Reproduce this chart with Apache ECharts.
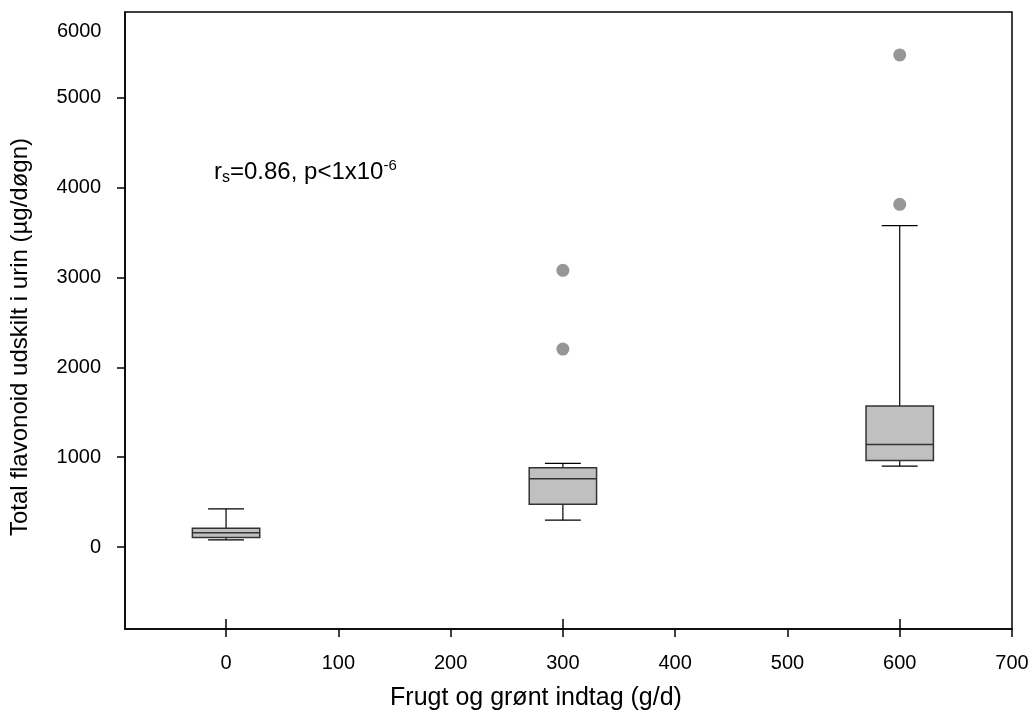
<!DOCTYPE html>
<html>
<head>
<meta charset="utf-8">
<script src="https://cdn.jsdelivr.net/npm/echarts@6/dist/echarts.min.js"></script>
<style>html,body{margin:0;padding:0;background:#fff}#c{width:1033px;height:711px}</style>
</head>
<body>
<div id="c"></div>
<script>
// ---- data ----
const intake = [0, 300, 600];
const lowWhisker = [81, 300, 901];
const q1 = [108, 478, 964];
const median = [159, 760, 1142];
const q3 = [211, 882, 1568];
const highWhisker = [426, 931, 3574];
const outlierX = [300, 300, 600, 600];
const outlierY = [3078, 2202, 5473, 3812];
const xTickLabels = [0, 100, 200, 300, 400, 500, 600, 700];
const xMajorTicks = [0, 300, 600];
const yTickLabels = [0, 1000, 2000, 3000, 4000, 5000];
const xTitle = 'Frugt og grønt indtag (g/d)';
const yTitle = 'Total flavonoid udskilt i urin (µg/døgn)';

const FONT = 'Liberation Sans, Arial, sans-serif';
const boxData = intake.map((x, i) => [x, lowWhisker[i], q1[i], median[i], q3[i], highWhisker[i]]);
const outliers = outlierX.map((x, i) => [x, outlierY[i]]);

const chart = echarts.init(document.getElementById('c'), null, {renderer: 'canvas'});
chart.setOption({
  animation: false,
  backgroundColor: '#fff',
  grid: {left: 125, right: 21, top: 12, bottom: 82, show: true, borderColor: '#000', borderWidth: 1.5},
  xAxis: [{
    type: 'value', min: -90, max: 700,
    splitLine: {show: false},
    axisLine: {onZero: false, lineStyle: {color: '#000', width: 1.5}},
    axisTick: {customValues: xTickLabels, length: 8, lineStyle: {color: '#000', width: 1.5}},
    axisLabel: {customValues: xTickLabels, margin: 24, fontSize: 20, color: '#000', fontFamily: FONT,
      formatter: v => String(v)}
  }, {
    type: 'value', min: -90, max: 700, position: 'bottom',
    splitLine: {show: false},
    axisLine: {show: false, onZero: false},
    axisTick: {customValues: xMajorTicks, inside: true, length: 10, lineStyle: {color: '#000', width: 1.5}},
    axisLabel: {show: false}
  }],
  yAxis: {
    type: 'value', min: -910, max: 5950,
    splitLine: {show: false},
    axisLine: {onZero: false, lineStyle: {color: '#000', width: 1.5}},
    axisTick: {customValues: yTickLabels, length: 8, lineStyle: {color: '#000', width: 1.5}},
    axisLabel: {customValues: yTickLabels, margin: 24, fontSize: 20, color: '#000', fontFamily: FONT,
      formatter: v => String(v)}
  },
  graphic: [
    {type: 'text', left: 57, top: 21, style: {text: '6000', fontSize: 20, fill: '#000', fontFamily: FONT}},
    {type: 'text', x: 536, y: 698, style: {text: xTitle, fontSize: 25, fill: '#000', fontFamily: FONT, align: 'center', verticalAlign: 'middle'}},
    {type: 'text', x: 20, y: 337, rotation: Math.PI / 2, style: {text: yTitle, fontSize: 24, fill: '#000', fontFamily: FONT, align: 'center', verticalAlign: 'middle'}},
    {type: 'text', x: 214, y: 172, style: {
      text: 'r{s|s}=0.86, p<1x10{p|-6}', fontSize: 24, fill: '#000', fontFamily: FONT, verticalAlign: 'middle', lineHeight: 28,
      rich: {
        s: {fontSize: 16, fontFamily: FONT, verticalAlign: 'bottom', lineHeight: 26, fill: '#000'},
        p: {fontSize: 15, fontFamily: FONT, verticalAlign: 'top', lineHeight: 14, fill: '#000'}
      }
    }}
  ],
  series: [{
    type: 'custom',
    data: boxData,
    encode: {x: 0, y: [1, 2, 3, 4, 5]},
    renderItem: function (params, api) {
      const x = api.value(0);
      const lo = api.coord([x, api.value(1)]);
      const b1 = api.coord([x, api.value(2)]);
      const md = api.coord([x, api.value(3)]);
      const b3 = api.coord([x, api.value(4)]);
      const hi = api.coord([x, api.value(5)]);
      const bw = api.size([60, 0])[0];
      const cw = api.size([32, 0])[0];
      const cx = lo[0];
      const line = {stroke: '#000', lineWidth: 1.2};
      return {
        type: 'group',
        children: [
          {type: 'line', shape: {x1: cx, y1: hi[1], x2: cx, y2: b3[1]}, style: line},
          {type: 'line', shape: {x1: cx, y1: lo[1], x2: cx, y2: b1[1]}, style: line},
          {type: 'line', shape: {x1: cx - cw / 2, y1: hi[1], x2: cx + cw / 2, y2: hi[1]}, style: line},
          {type: 'line', shape: {x1: cx - cw / 2, y1: lo[1], x2: cx + cw / 2, y2: lo[1]}, style: line},
          {type: 'rect', shape: {x: cx - bw / 2, y: b3[1], width: bw, height: b1[1] - b3[1]},
            style: {fill: '#c0c0c0', stroke: '#333', lineWidth: 1.5}},
          {type: 'line', shape: {x1: cx - bw / 2, y1: md[1], x2: cx + bw / 2, y2: md[1]},
            style: {stroke: '#333', lineWidth: 1.5}}
        ]
      };
    }
  }, {
    type: 'scatter',
    data: outliers,
    symbol: 'circle',
    symbolSize: 13,
    itemStyle: {color: '#969696', opacity: 1}
  }]
});
</script>
</body>
</html>
